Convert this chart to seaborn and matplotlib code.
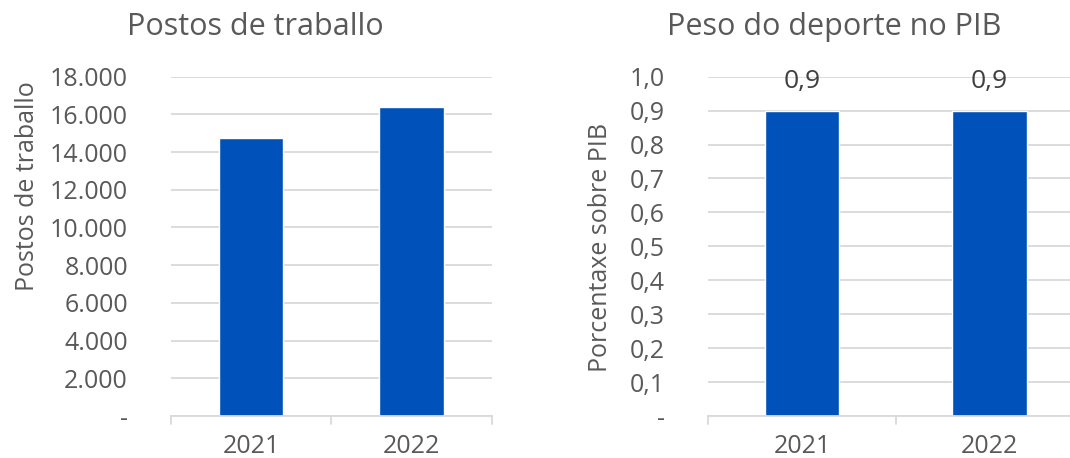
import matplotlib
matplotlib.use("Agg")
import matplotlib.pyplot as plt
import seaborn as sns
import pandas as pd
from matplotlib.ticker import FuncFormatter, MultipleLocator

years = ["2021", "2022"]
jobs = [14750, 16400]
gdp_share = [0.9, 0.9]

BLUE = "#0051BA"
TXT = "#595959"
GRID = "#D9D9D9"

sns.set_theme(style="white")
plt.rcParams["font.family"] = ["Open Sans", "DejaVu Sans"]

W, H = 1070, 458
fig = plt.figure(figsize=(W / 100, H / 100), dpi=100)

def pos(l, t, r, b):
    return [l / W, 1 - b / H, (r - l) / W, (b - t) / H]

ax1 = fig.add_axes(pos(171, 76.7, 491.7, 416))
ax2 = fig.add_axes(pos(708.3, 76.7, 1083, 416))

df1 = pd.DataFrame({"year": years, "value": jobs})
df2 = pd.DataFrame({"year": years, "value": gdp_share})

sns.barplot(data=df1, x="year", y="value", ax=ax1, color=BLUE, width=0.4, saturation=1)
sns.barplot(data=df2, x="year", y="value", ax=ax2, color=BLUE, width=0.4, saturation=1)

def fmt_thousands(v, p):
    if abs(v) < 1e-9:
        return "-"
    return f"{v:,.0f}".replace(",", ".")

def fmt_dec(v, p):
    if abs(v) < 1e-9:
        return "-"
    return f"{v:.1f}".replace(".", ",")

for ax, top, step, fmt, ylabel, lc in [
    (ax1, 18000, 2000, fmt_thousands, "Postos de traballo", (-0.41, 0.678)),
    (ax2, 1.0, 0.1, fmt_dec, "Porcentaxe sobre PIB", (-0.254, 0.498)),
]:
    ax.set_ylim(0, top)
    ax.set_xlim(-0.5, 1.5)
    ax.yaxis.set_major_locator(MultipleLocator(step))
    ax.yaxis.set_major_formatter(FuncFormatter(fmt))
    ax.grid(axis="y", color=GRID, linewidth=1.3)
    ax.set_axisbelow(True)
    for s in ["top", "right", "left"]:
        ax.spines[s].set_visible(False)
    ax.spines["bottom"].set_color(GRID)
    ax.spines["bottom"].set_linewidth(1.3)
    ax.tick_params(axis="y", length=0, labelsize=18, labelcolor=TXT, pad=31)
    ax.tick_params(axis="x", length=0, labelsize=18, labelcolor=TXT, pad=13)
    ax.set_xlabel("")
    ax.set_ylabel(ylabel, fontsize=18, color=TXT)
    ax.yaxis.set_label_coords(*lc)
    # Excel-style category boundary ticks
    for xb in [-0.5, 0.5, 1.5]:
        ax.plot([xb, xb], [0, -0.025 * top], color=GRID, linewidth=1.3, clip_on=False)

fig.text(255 / W, 1 - 27 / H, "Postos de traballo", fontsize=22, color=TXT,
         ha="center", va="center")
fig.text(834 / W, 1 - 27 / H, "Peso do deporte no PIB", fontsize=22, color=TXT,
         ha="center", va="center")

ax2.bar_label(ax2.containers[0], labels=[fmt_dec(v, None) for v in gdp_share],
              padding=12, fontsize=19, color="#404040")

fig.savefig("out.png", dpi=100)
